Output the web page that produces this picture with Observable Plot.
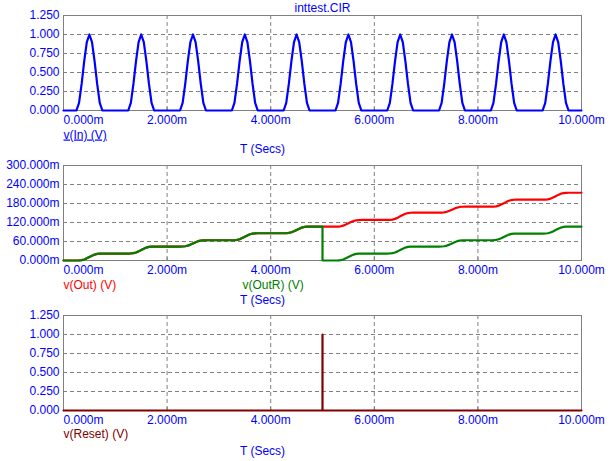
<!DOCTYPE html>
<html>
<head>
<meta charset="utf-8">
<script src="https://cdn.jsdelivr.net/npm/d3@7"></script>
<script src="https://cdn.jsdelivr.net/npm/@observablehq/plot@0.6"></script>
<style>
  html, body { margin: 0; padding: 0; background: #ffffff; }
  #chart { width: 614px; height: 461px; position: relative; background: #ffffff; }
  #chart svg { display: block; }
</style>
</head>
<body>
<div id="chart"></div>
<script>
// ---- Data ----
const titleText = "inttest.CIR";
const xTicks = [0, 2, 4, 6, 8, 10];                       // ms
const xTickLabels = ["0.000m", "2.000m", "4.000m", "6.000m", "8.000m", "10.000m"];
const xGrid = [2, 4, 6, 8];
const voltTicks = [0, 0.25, 0.5, 0.75, 1.0, 1.25];
const voltTickLabels = ["0.000", "0.250", "0.500", "0.750", "1.000", "1.250"];
const outTicks = [0, 60, 120, 180, 240, 300];              // mV
const outTickLabels = ["0.000m", "60.000m", "120.000m", "180.000m", "240.000m", "300.000m"];

// input pulses: start time of each pulse (ms), offsets within pulse, and pulse shape values
const pulseStarts = [0.25, 1.25, 2.25, 3.25, 4.25, 5.25, 6.25, 7.25, 8.25, 9.25];
const pulseOffsets = [0, 0.05, 0.1, 0.15, 0.2, 0.25, 0.3, 0.35, 0.4, 0.45, 0.5];
const inShape = [0, 0.1, 0.35, 0.65, 0.9, 1, 0.9, 0.65, 0.35, 0.1, 0];
// integrator rise during a pulse (fraction of the step)
const rampShape = [0, 0.01, 0.05, 0.15, 0.31, 0.5, 0.69, 0.85, 0.95, 0.99, 1];
// v(Out) levels between pulses (mV)
const outLevels = [0, 22, 44, 64, 86, 107, 128, 151, 170, 192, 214];
// v(OutR) levels: before reset (pulses 1-5) then after reset (pulses 6-10) (mV)
const outRLevelsA = [0, 22, 44, 64, 86, 107];
const outRLevelsB = [0, 22, 44, 64, 85, 107];
const resetTime = 5.0;
// v(Reset)
const resetT = [0, 5, 5, 5, 10];
const resetV = [0, 0, 1, 0, 0];

// ---- Build tables ----
const inData = [{t: 0, v: 0}];
pulseStarts.forEach(s => pulseOffsets.forEach((o, i) => inData.push({t: s + o, v: inShape[i]})));
inData.push({t: 10, v: 0});

function stepSeries(starts, levels) {
  const pts = [];
  starts.forEach((s, k) => pulseOffsets.forEach((o, i) =>
    pts.push({t: s + o, v: levels[k] + rampShape[i] * (levels[k + 1] - levels[k])})));
  return pts;
}
const outData = [{t: 0, v: 0}, ...stepSeries(pulseStarts, outLevels), {t: 10, v: outLevels[outLevels.length - 1]}];
const outRData = [
  {t: 0, v: 0},
  ...stepSeries(pulseStarts.slice(0, 5), outRLevelsA),
  {t: resetTime, v: outRLevelsA[outRLevelsA.length - 1]},
  {t: resetTime, v: 0},
  ...stepSeries(pulseStarts.slice(5), outRLevelsB),
  {t: 10, v: outRLevelsB[outRLevelsB.length - 1]}
];
const resetData = resetT.map((t, i) => ({t, v: resetV[i]}));

const xLab = xTicks.map((v, i) => ({v, label: xTickLabels[i]}));
const voltLab = voltTicks.map((v, i) => ({v, label: voltTickLabels[i]}));
const outLab = outTicks.map((v, i) => ({v, label: outTickLabels[i]}));

// ---- Styling ----
const FONT = "'Liberation Sans', Arial, Helvetica, sans-serif";
const BLUE = "#0000ff", GRAY = "#808080";

function panel({height, marginBottom, yDomain, yLab, yGridVals, lines, labels}) {
  const marks = [
    Plot.ruleY(yGridVals, {y: d => d, stroke: GRAY, strokeDasharray: "4,3", strokeWidth: 1}),
    Plot.ruleX(xGrid, {x: d => d, stroke: GRAY, strokeDasharray: "4,3", strokeWidth: 1}),
    Plot.tickX(xGrid, {x: d => d, stroke: GRAY, insetTop: 92}),
    Plot.frame({stroke: GRAY}),
    ...lines,
    Plot.text(yLab, {y: "v", text: "label", frameAnchor: "left", textAnchor: "end", dx: -4, fill: BLUE}),
    Plot.text(xLab.slice(0, 1), {x: "v", text: "label", frameAnchor: "bottom", textAnchor: "start", lineAnchor: "bottom", dy: 13.5, fill: BLUE}),
    Plot.text(xLab.slice(1), {x: "v", text: "label", frameAnchor: "bottom", textAnchor: "middle", lineAnchor: "bottom", dy: 13.5, fill: BLUE}),
    ...labels
  ];
  return Plot.plot({
    width: 614, height,
    marginLeft: 63, marginRight: 33, marginTop: 15, marginBottom,
    x: {domain: [0, 10], axis: null},
    y: {domain: yDomain, axis: null},
    style: {fontFamily: FONT, fontSize: "12px", background: "#ffffff", overflow: "visible"},
    marks
  });
}

const p1 = panel({
  height: 150, marginBottom: 40, yDomain: [0, 1.25], yLab: voltLab, yGridVals: [0.25, 0.5, 0.75, 1.0],
  lines: [Plot.line(inData, {x: "t", y: "v", stroke: BLUE, strokeWidth: 2.2})],
  labels: [
    Plot.text([titleText], {text: d => d, frameAnchor: "top", lineAnchor: "bottom", dy: -3.5, fill: BLUE}),
    Plot.text(["v(In) (V)"], {text: d => d, frameAnchor: "bottom-left", textAnchor: "start", lineAnchor: "bottom", dy: 28, fill: BLUE}),
    Plot.text(["T (Secs)"], {text: d => d, frameAnchor: "bottom", textAnchor: "middle", lineAnchor: "bottom", dy: 42.5, dx: -60, fill: BLUE})
  ]
});

const p2 = panel({
  height: 150, marginBottom: 40, yDomain: [0, 300], yLab: outLab, yGridVals: [60, 120, 180, 240],
  lines: [
    Plot.line(outData, {x: "t", y: "v", stroke: "#ff0000", strokeWidth: 2.2}),
    Plot.line(outRData, {x: "t", y: "v", stroke: "#008000", strokeWidth: 2.2})
  ],
  labels: [
    Plot.text(["v(Out) (V)"], {text: d => d, frameAnchor: "bottom-left", textAnchor: "start", lineAnchor: "bottom", dy: 28, fill: "#ff0000"}),
    Plot.text(["v(OutR) (V)"], {text: d => d, frameAnchor: "bottom-left", textAnchor: "start", lineAnchor: "bottom", dy: 28, dx: 179, fill: "#008000"}),
    Plot.text(["T (Secs)"], {text: d => d, frameAnchor: "bottom", textAnchor: "middle", lineAnchor: "bottom", dy: 43, dx: -60, fill: BLUE})
  ]
});

const p3 = panel({
  height: 161, marginBottom: 51, yDomain: [0, 1.25], yLab: voltLab, yGridVals: [0.25, 0.5, 0.75, 1.0],
  lines: [Plot.line(resetData, {x: "t", y: "v", stroke: "#800000", strokeWidth: 2.2})],
  labels: [
    Plot.text(["v(Reset) (V)"], {text: d => d, frameAnchor: "bottom-left", textAnchor: "start", lineAnchor: "bottom", dy: 27.5, fill: "#800000"}),
    Plot.text(["T (Secs)"], {text: d => d, frameAnchor: "bottom", textAnchor: "middle", lineAnchor: "bottom", dy: 44, dx: -60, fill: BLUE})
  ]
});

const chart = document.getElementById("chart");
[p1, p2, p3].forEach(p => chart.appendChild(p));

// underline the v(In) label as in the reference
d3.select(p1).selectAll("text").filter(function () { return this.textContent === "v(In) (V)"; })
  .attr("text-decoration", "underline");
</script>
</body>
</html>
